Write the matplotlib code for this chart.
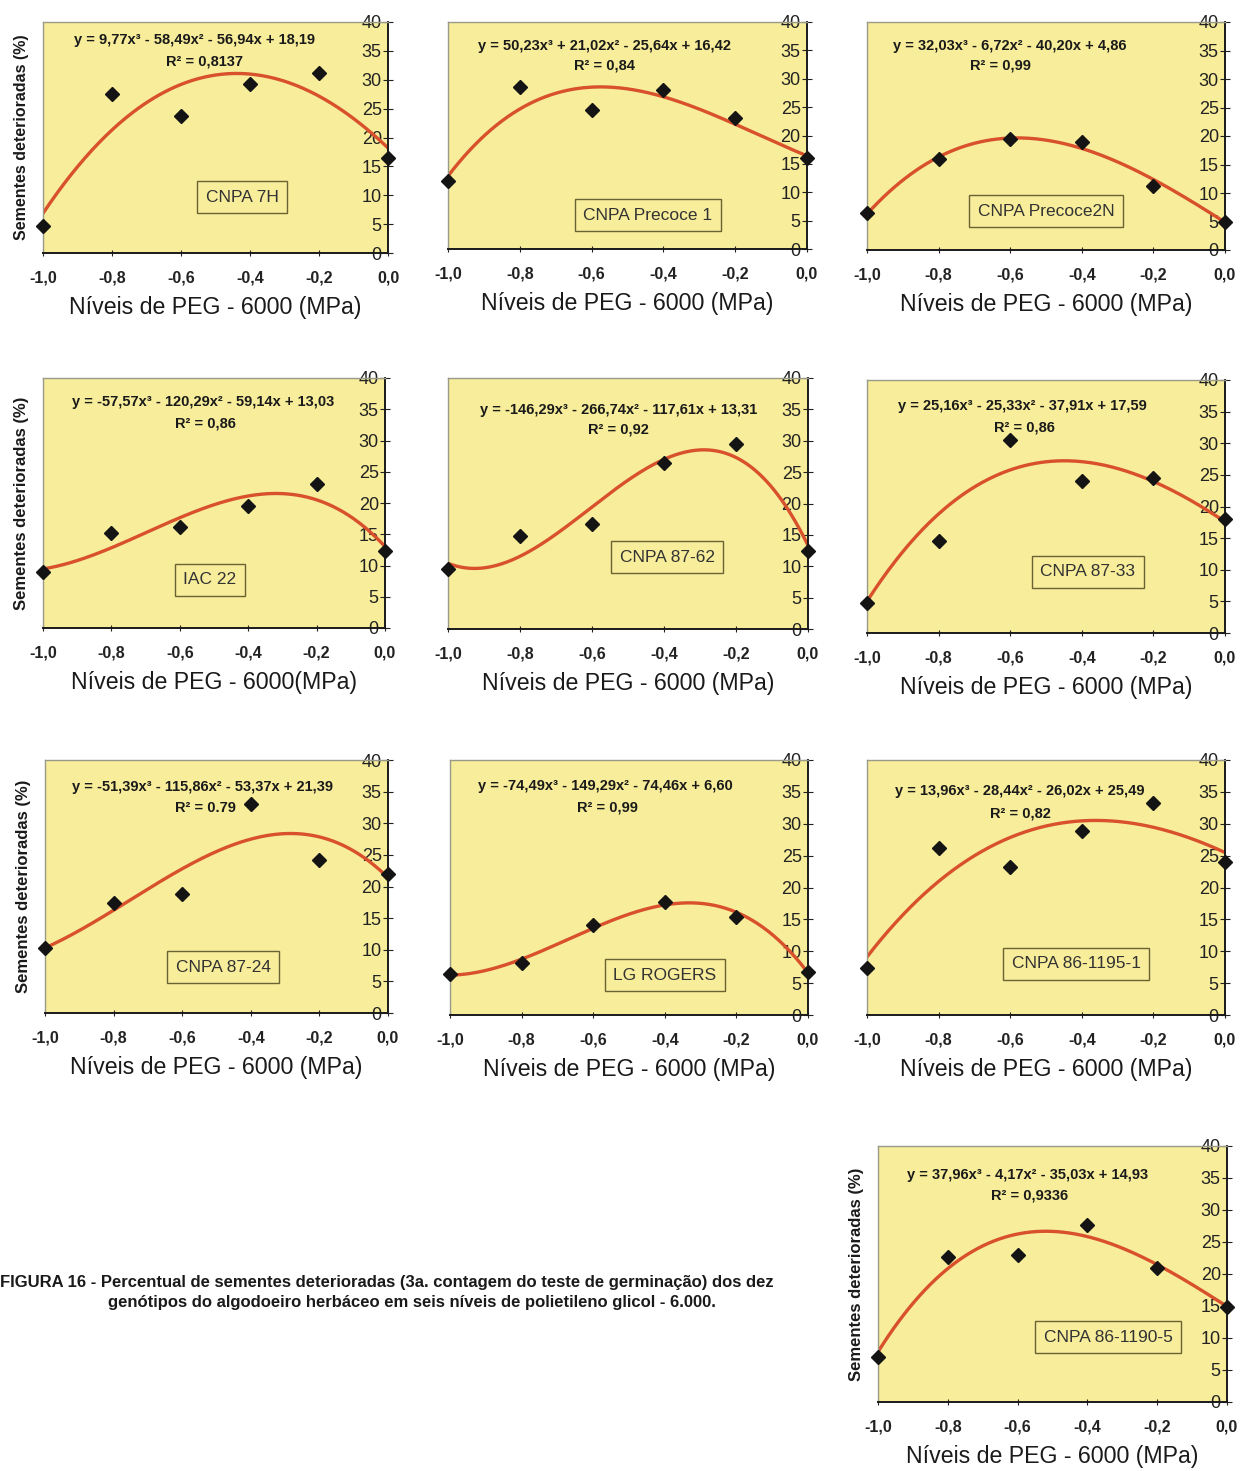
import numpy as np
import matplotlib
matplotlib.use('Agg')
import matplotlib.pyplot as plt

plt.rcParams['font.family'] = ['Liberation Sans', 'DejaVu Sans']

W, H = 1241, 1471

x_levels = [-1.0, -0.8, -0.6, -0.4, -0.2, 0.0]

genotypes = ['CNPA 7H', 'CNPA Precoce 1', 'CNPA Precoce2N',
             'IAC 22', 'CNPA 87-62', 'CNPA 87-33',
             'CNPA 87-24', 'LG ROGERS', 'CNPA 86-1195-1',
             'CNPA 86-1190-5']

# percentual de sementes deterioradas em cada nivel de PEG
y_7h = [4.7, 27.5, 23.8, 29.3, 31.2, 16.5]
y_precoce1 = [12.0, 28.5, 24.5, 28.0, 23.0, 16.0]
y_precoce2n = [6.5, 16.0, 19.5, 19.0, 11.2, 5.0]
y_iac22 = [9.0, 15.2, 16.2, 19.5, 23.0, 12.3]
y_8762 = [9.5, 14.8, 16.7, 26.5, 29.5, 12.5]
y_8733 = [4.8, 14.5, 30.5, 24.0, 24.5, 18.0]
y_8724 = [10.2, 17.4, 18.8, 33.0, 24.2, 22.0]
y_lgrogers = [6.4, 8.1, 14.1, 17.8, 15.3, 6.8]
y_8611951 = [7.4, 26.2, 23.2, 28.8, 33.2, 24.0]
y_8611905 = [7.1, 22.6, 23.0, 27.7, 20.9, 14.8]
series = [y_7h, y_precoce1, y_precoce2n, y_iac22, y_8762, y_8733,
          y_8724, y_lgrogers, y_8611951, y_8611905]

# coeficientes das equacoes de regressao (x^3, x^2, x, const)
coefs = [
    [9.77, -58.49, -56.94, 18.19],
    [50.23, 21.02, -25.64, 16.42],
    [32.03, -6.72, -40.20, 4.86],
    [-57.57, -120.29, -59.14, 13.03],
    [-146.29, -266.74, -117.61, 13.31],
    [25.16, -25.33, -37.91, 17.59],
    [-51.39, -115.86, -53.37, 21.39],
    [-74.49, -149.29, -74.46, 6.60],
    [13.96, -28.44, -26.02, 25.49],
    [37.96, -4.17, -35.03, 14.93],
]
r2_labels = ['R² = 0,8137', 'R² = 0,84', 'R² = 0,99', 'R² = 0,86', 'R² = 0,92',
             'R² = 0,86', 'R² = 0.79', 'R² = 0,99', 'R² = 0,82', 'R² = 0,9336']

xlabels = ['Níveis de PEG - 6000 (MPa)'] * 10
xlabels[3] = 'Níveis de PEG - 6000(MPa)'
x_ticklabels = ['-1,0', '-0,8', '-0,6', '-0,4', '-0,2', '0,0']

# layout in pixels: (left, top, right, bottom)
boxes = [(43, 22, 388, 253), (448, 22, 807, 249), (867, 22, 1225, 250),
         (43, 378, 385, 628), (448, 378, 808, 629), (867, 380, 1225, 633),
         (45, 760, 388, 1013), (450, 760, 808, 1015), (867, 760, 1225, 1015),
         (878, 1146, 1227, 1402)]
eq_pos = [(195, 40), (604, 46), (1010, 46), (203, 402), (619, 410), (1022, 406),
          (203, 787), (605, 786), (1020, 791), (1028, 1175)]
r2_pos = [(205, 62), (604, 65), (1000, 66), (205, 424), (618, 430), (1024, 428),
          (205, 808), (607, 808), (1020, 813), (1030, 1196)]
label_pos = [(242, 197), (648, 215), (1046, 211), (210, 580), (667, 557), (1088, 572),
             (223, 967), (665, 975), (1076, 964), (1108, 1337)]
with_ylabel = [0, 3, 6, 9]


def fmt(v):
    return ('%.2f' % abs(v)).replace('.', ',')


def equation(c):
    s = 'y = ' + ('-' if c[0] < 0 else '') + fmt(c[0]) + 'x³'
    for v, p in zip(c[1:], ['x²', 'x', '']):
        s += (' - ' if v < 0 else ' + ') + fmt(v) + p
    return s


def fx(px):
    return px / W


def fy(py):
    return 1 - py / H


fig = plt.figure(figsize=(W / 100, H / 100), dpi=100)
fig.patch.set_facecolor('white')

xs = np.linspace(-1, 0, 200)
for i in range(10):
    l, t, r, b = boxes[i]
    ax = fig.add_axes([fx(l), fy(b), (r - l) / W, (b - t) / H])
    ax.set_facecolor('#f7ed9a')
    ax.plot(xs, np.polyval(coefs[i], xs), color='#d8502c', lw=2.4, zorder=2)
    ax.plot(x_levels, series[i], 'D', color='#141414', ms=7, zorder=3, clip_on=False)
    ax.set_xlim(-1, 0)
    ax.set_ylim(0, 40)
    ax.set_xticks(x_levels)
    ax.set_xticklabels(x_ticklabels, fontsize=11.5, fontweight='bold')
    ax.set_yticks(range(0, 41, 5))
    ax.yaxis.tick_right()
    ax.tick_params(axis='y', direction='inout', length=7, labelsize=13, pad=-8, colors='#222222')
    for lab in ax.get_yticklabels():
        lab.set_horizontalalignment('right')
    ax.tick_params(axis='x', direction='inout', length=5, pad=10, colors='#222222')
    for s in ['left', 'top']:
        ax.spines[s].set_color('#9a9a8a')
        ax.spines[s].set_linewidth(1.0)
    for s in ['right', 'bottom']:
        ax.spines[s].set_color('#1a1a1a')
        ax.spines[s].set_linewidth(1.4)
    ax.set_xlabel(xlabels[i], fontsize=16.7, labelpad=8, color='#1a1a1a')
    if i in with_ylabel:
        ax.set_ylabel('Sementes deterioradas (%)', fontsize=11.5 if i == 0 else 12,
                      fontweight='bold', labelpad=10, color='#1a1a1a')

    fig.text(fx(eq_pos[i][0]), fy(eq_pos[i][1]), equation(coefs[i]), fontsize=10.5,
             fontweight='bold', ha='center', va='center', color='#1a1a1a')
    fig.text(fx(r2_pos[i][0]), fy(r2_pos[i][1]), r2_labels[i], fontsize=10.5,
             fontweight='bold', ha='center', va='center', color='#1a1a1a')
    fig.text(fx(label_pos[i][0]), fy(label_pos[i][1]), genotypes[i], fontsize=12.5,
             ha='center', va='center', color='#333333',
             bbox=dict(boxstyle='square,pad=0.5', facecolor='#f7ed9a',
                       edgecolor='#6b6334', linewidth=1.0))

fig.text(0.0, fy(1283), 'FIGURA 16 - Percentual de sementes deterioradas (3a. contagem do teste de germinação) dos dez',
         fontsize=12, fontweight='bold', ha='left', va='center', color='#1a1a1a')
fig.text(fx(108), fy(1302), 'genótipos do algodoeiro herbáceo em seis níveis de polietileno glicol - 6.000.',
         fontsize=12, fontweight='bold', ha='left', va='center', color='#1a1a1a')

fig.savefig('out.png', dpi=100)
